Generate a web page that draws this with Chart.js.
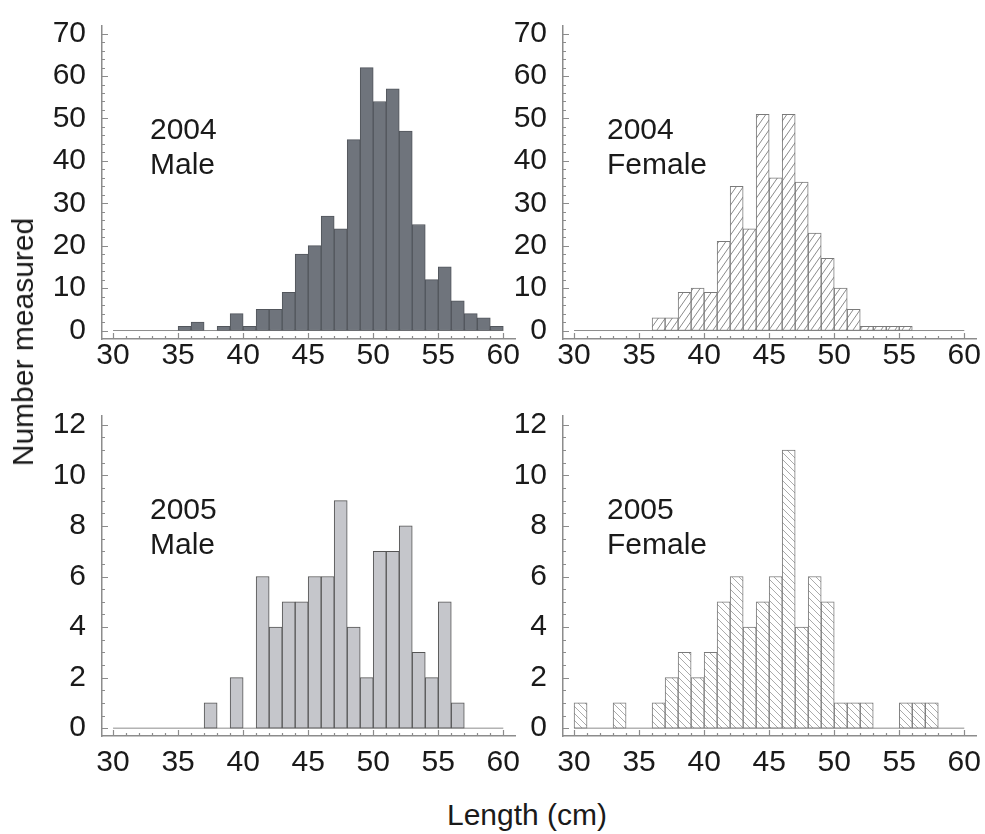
<!DOCTYPE html>
<html><head><meta charset="utf-8">
<script src="https://cdn.jsdelivr.net/npm/chart.js@4.4.1/dist/chart.umd.min.js"></script>
<style>
html,body{margin:0;padding:0;background:#fff;width:985px;height:834px;overflow:hidden;position:relative;font-family:"Liberation Sans",Arial,sans-serif;color:#1a1a1a;}
canvas{position:absolute;}
.lbl{position:absolute;font-size:30px;line-height:35px;white-space:nowrap;z-index:2;}
.ttl{position:absolute;font-size:30px;line-height:30px;white-space:nowrap;z-index:2;}
</style></head><body>
<canvas id="c1" width="530" height="380" style="left:0;top:0"></canvas>
<canvas id="c2" width="524" height="380" style="left:461px;top:0"></canvas>
<canvas id="c3" width="530" height="400" style="left:0;top:390px"></canvas>
<canvas id="c4" width="524" height="400" style="left:461px;top:390px"></canvas>
<div class="lbl" style="left:150px;top:111px">2004<br>Male</div>
<div class="lbl" style="left:607px;top:111px">2004<br>Female</div>
<div class="lbl" style="left:150px;top:491px">2005<br>Male</div>
<div class="lbl" style="left:607px;top:491px">2005<br>Female</div>
<div class="ttl" style="left:447px;top:800px">Length (cm)</div>
<div class="ttl" style="left:23px;top:342px;transform:translate(-50%,-50%) rotate(-90deg)">Number measured</div>
<script>
// Bin starts (cm), 1-cm bins
const binStarts = [30,31,32,33,34,35,36,37,38,39,40,41,42,43,44,45,46,47,48,49,50,51,52,53,54,55,56,57,58,59];
const male2004   = [0,0,0,0,0,1,2,0,1,4,1,5,5,9,18,20,27,24,45,62,54,57,47,25,12,15,7,4,3,1];
const female2004 = [0,0,0,0,0,0,3,3,9,10,9,21,34,24,51,36,51,35,23,17,10,5,1,1,1,1,0,0,0,0];
const male2005   = [0,0,0,0,0,0,0,1,0,2,0,6,4,5,5,6,6,9,4,2,7,7,8,3,2,5,1,0,0,0];
const female2005 = [1,0,0,1,0,0,1,2,3,2,3,5,6,4,5,6,11,4,6,5,1,1,1,0,0,1,1,1,0,0];
const xTicks = [30,35,40,45,50,55,60];
const yTicks2004 = [0,10,20,30,40,50,60,70];
const yTicks2005 = [0,2,4,6,8,10,12];
const baseline = [30,60];

const AX = '#8c8c8c';
function hatch(dir, color, w, h) {
  const c = document.createElement('canvas'); c.width = w; c.height = h;
  const g = c.getContext('2d');
  g.fillStyle = '#fff'; g.fillRect(0,0,w,h);
  g.strokeStyle = color; g.lineWidth = 1;
  g.beginPath();
  if (dir === '/') {
    g.moveTo(0,h); g.lineTo(w,0);
    g.moveTo(-w,h); g.lineTo(0,0);
    g.moveTo(w,h); g.lineTo(2*w,0);
  } else {
    g.moveTo(0,0); g.lineTo(w,h);
    g.moveTo(-w,0); g.lineTo(0,h);
    g.moveTo(w,0); g.lineTo(2*w,h);
  }
  g.stroke();
  return g.createPattern(c,'repeat');
}

const tickMarks = {
  id: 'tickMarks',
  afterDraw(chart, args, o) {
    const {ctx, scales: {x, y}, chartArea: a} = chart;
    ctx.save();
    ctx.strokeStyle = AX; ctx.lineWidth = 1.2;
    ctx.beginPath();
    const ny = Math.round((o.yTop - o.yBottom) / o.yStep);
    for (let i = 0; i <= ny; i++) {
      const v = o.yBottom + i * o.yStep;
      const p = Math.round(y.getPixelForValue(v)) + 0.5;
      const len = o.yMajor.includes(Math.round(v*1000)/1000) ? 6 : 3;
      ctx.moveTo(a.left, p); ctx.lineTo(a.left + len, p);
    }
    const nx = Math.round((o.xTop - o.xBottom) / o.xStep);
    for (let i = 0; i <= nx; i++) {
      const v = o.xBottom + i * o.xStep;
      const p = Math.round(x.getPixelForValue(v)) + 0.5;
      const len = o.xMajor.includes(v) ? 6 : 3;
      ctx.moveTo(p, a.bottom); ctx.lineTo(p, a.bottom - len);
    }
    ctx.stroke();
    ctx.restore();
  }
};

Chart.defaults.font.family = '"Liberation Sans", Arial, sans-serif';
Chart.defaults.color = '#1a1a1a';

function makeChart(id, values, bg, border, yMin, yMax, yTicks, yStep, pad, xAxisH, xPad) {
  const data = binStarts.map((b, i) => ({x: b + 0.5, y: values[i]}));
  return new Chart(document.getElementById(id), {
    type: 'bar',
    data: {
      datasets: [
        {type: 'bar', data, backgroundColor: bg, borderColor: border, borderWidth: 1,
         borderSkipped: false, barPercentage: 1, categoryPercentage: 1, order: 1},
        {type: 'line', data: baseline.map(v => ({x: v, y: 0})), borderColor: AX, borderWidth: 1,
         pointRadius: 0, order: 2}
      ]
    },
    options: {
      responsive: false, animation: false,
      layout: {padding: pad},
      plugins: {legend: {display: false}, tooltip: {enabled: false},
        tickMarks: {yBottom: 0, yTop: yTicks[yTicks.length-1], yStep, yMajor: yTicks,
                    xBottom: xTicks[0], xTop: xTicks[xTicks.length-1], xStep: 1, xMajor: xTicks}},
      scales: {
        x: {type: 'linear', min: 29.15, max: 60.9, offset: false,
            grid: {display: false, offset: false}, border: {display: true, color: AX, width: 1.5},
            afterBuildTicks: s => { s.ticks = xTicks.map(v => ({value: v})); },
            afterFit: s => { s.height = xAxisH; },
            ticks: {font: {size: 30}, padding: xPad, maxRotation: 0, autoSkip: false}},
        y: {type: 'linear', min: yMin, max: yMax,
            grid: {display: false}, border: {display: true, color: AX, width: 1.5},
            afterBuildTicks: s => { s.ticks = yTicks.map(v => ({value: v})); },
            afterFit: s => { s.width = 102; },
            ticks: {font: {size: 30}, padding: 8}}
      }
    },
    plugins: [tickMarks]
  });
}

const pF04 = hatch('/', '#8a8a8a', 7, 10);
const pF05 = hatch('\\', '#ababab', 7, 7);

makeChart('c1', male2004, '#6f747c', '#52565c', -2, 71.8, yTicks2004, 2, {top:14, right:15, left:0, bottom:0}, 41, -9);
makeChart('c2', female2004, pF04, '#7a7a7a', -2, 71.8, yTicks2004, 2, {top:14, right:9, left:0, bottom:0}, 41, -9);
makeChart('c3', male2005, '#c5c6cb', '#555555', -0.31, 12.35, yTicks2005, 0.5, {top:21.7, right:15, left:0, bottom:0}, 54, 1);
makeChart('c4', female2005, pF05, '#7a7a7a', -0.31, 12.35, yTicks2005, 0.5, {top:21.7, right:9, left:0, bottom:0}, 54, 1);
</script>
</body></html>
